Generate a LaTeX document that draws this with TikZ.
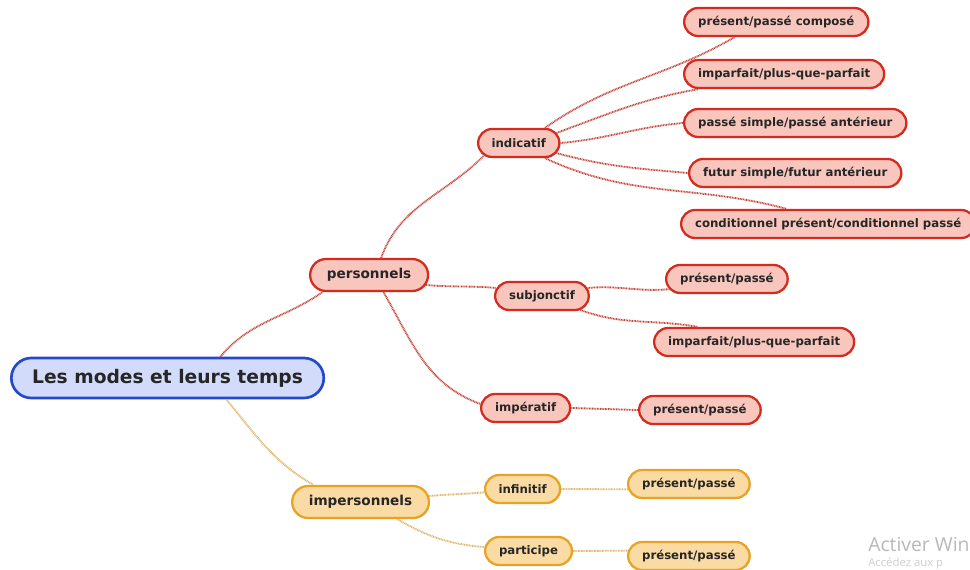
\documentclass[tikz,border=0pt]{standalone}
\usepackage{fontspec}
\newfontfamily\mapfont{DejaVu Sans}
\newfontfamily\winfont{Open Sans}
\usetikzlibrary{shapes.misc,shadows}
\definecolor{redborder}{HTML}{D42B1E}
\definecolor{redfill}{HTML}{F8C6BD}
\definecolor{redlink}{HTML}{C8473C}
\definecolor{orangeborder}{HTML}{E8A224}
\definecolor{orangefill}{HTML}{FBDBA4}
\definecolor{orangelink}{HTML}{E2B66A}
\definecolor{blueborder}{HTML}{2548CC}
\definecolor{bluefill}{HTML}{D2DBFA}

\begin{document}
\begin{tikzpicture}[x=0.75pt,y=0.75pt,
	box/.style={rounded rectangle, anchor=west, line width=1.7pt, minimum height=21pt,
		inner xsep=9.5pt, text=black!85, font=\mapfont\bfseries\fontsize{8.8}{10}\selectfont,
		drop shadow={opacity=0.2, shadow xshift=0.8pt, shadow yshift=-0.8pt}},
	redbox/.style={box, draw=redborder, fill=redfill},
	orangebox/.style={box, draw=orangeborder, fill=orangefill},
	bigbox/.style={minimum height=24pt, inner xsep=11.5pt, font=\mapfont\bfseries\fontsize{10.2}{12}\selectfont},
	rootbox/.style={box, draw=blueborder, fill=bluefill, line width=2pt, minimum height=30pt,
		inner xsep=14pt, font=\mapfont\bfseries\fontsize{14}{16}\selectfont},
	redline/.style={draw=redlink, line width=1.4pt, dash pattern=on 0.7pt off 0.5pt},
	orangeline/.style={draw=orangelink, line width=1.4pt, dash pattern=on 0.7pt off 0.5pt}]
	\useasboundingbox (0,0) rectangle (970,570);
	% Nodes
	\node[rootbox] (root) at (10,192) {Les modes et leurs temps};
	\node[redbox, bigbox] (pers) at (309,295) {personnels};
	\node[orangebox, bigbox] (impers) at (291,68) {impersonnels};
	\node[redbox] (indic) at (477,427) {indicatif};
	\node[redbox] (subj) at (494,274) {subjonctif};
	\node[redbox] (imper) at (480,162) {impératif};
	\node[orangebox] (infin) at (484,81) {infinitif};
	\node[orangebox] (partic) at (484,19) {participe};
	\node[redbox] (ind1) at (683,548) {présent/passé composé};
	\node[redbox] (ind2) at (683,496) {imparfait/plus-que-parfait};
	\node[redbox] (ind3) at (683,447) {passé simple/passé antérieur};
	\node[redbox] (ind4) at (688,397) {futur simple/futur antérieur};
	\node[redbox] (ind5) at (680,346) {conditionnel présent/conditionnel passé};
	\node[redbox] (subj1) at (665,291) {présent/passé};
	\node[redbox] (subj2) at (653,228) {imparfait/plus-que-parfait};
	\node[redbox] (imper1) at (638,160) {présent/passé};
	\node[orangebox] (infin1) at (627,86) {présent/passé};
	\node[orangebox] (partic1) at (627,14) {présent/passé};
	% Links
	\draw[redline] (root.22) to[out=50,in=215] (pers.200);
	\draw[orangeline] (root.-20) to[out=-50,in=150] (impers.160);
	\draw[redline] (pers.55) to[out=70,in=225] (indic.200);
	\draw[redline] (pers.-10) to[out=-5,in=175] (subj.170);
	\draw[redline] (pers.-50) to[out=-60,in=160] (imper.175);
	\draw[redline] (indic.30) to[out=35,in=210] (ind1.200);
	\draw[redline] (indic.15) to[out=20,in=190] (ind2.190);
	\draw[redline] (indic.0) to[out=5,in=185] (ind3.180);
	\draw[redline] (indic.-15) to[out=-15,in=175] (ind4.180);
	\draw[redline] (indic.-30) to[out=-25,in=165] (ind5.160);
	\draw[redline] (subj.10) to[out=5,in=185] (subj1.190);
	\draw[redline] (subj.-20) to[out=-20,in=170] (subj2.165);
	\draw[redline] (imper.east) -- (imper1.west);
	\draw[orangeline] (impers.5) to[out=5,in=185] (infin.185);
	\draw[orangeline] (impers.-25) to[out=-30,in=175] (partic.175);
	\draw[orangeline] (infin.east) -- (infin1.185);
	\draw[orangeline] (partic.east) -- (partic1.175);
	% Watermark
	\node[anchor=base west, inner sep=0pt, text=black!28, font=\winfont\fontsize{14.5}{16}\selectfont] (win) at (868,18) {Activer Win};
	\node[anchor=base west, inner sep=0pt, text=black!20, font=\winfont\fontsize{8.5}{9}\selectfont] (winsub) at (868,3.5) {Accédez aux p};
\end{tikzpicture}
\end{document}
